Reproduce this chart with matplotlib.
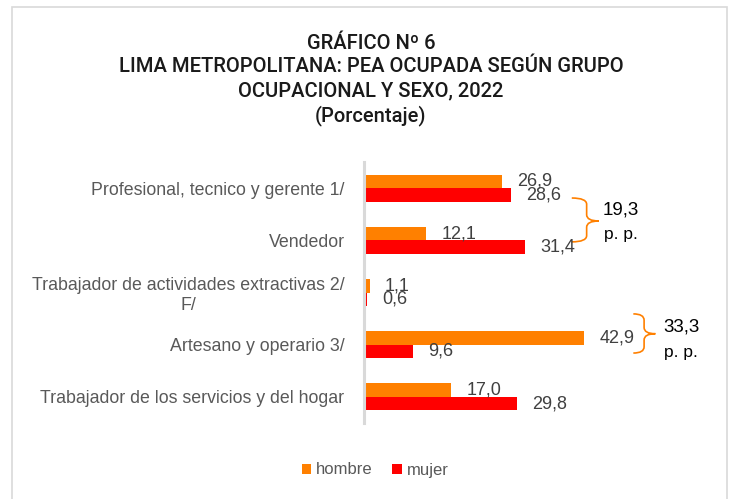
import matplotlib
matplotlib.use("Agg")
import matplotlib.pyplot as plt
from matplotlib.path import Path
from matplotlib.patches import PathPatch, Rectangle
import numpy as np

plt.rcParams['font.family'] = ['Liberation Sans', 'DejaVu Sans']

categories = [
    "Profesional, tecnico y gerente 1/",
    "Vendedor",
    "Trabajador de actividades extractivas 2/\nF/",
    "Artesano y operario 3/",
    "Trabajador de los servicios y del hogar",
]
hombre = [26.9, 12.1, 1.1, 42.9, 17.0]
mujer = [28.6, 31.4, 0.6, 9.6, 29.8]
series_names = ["hombre", "mujer"]
colors = ["#FF8000", "#FF0000"]

# brackets: (first row, last row) compared inside each gap
brace_rows = [(0, 1), (3, 3)]

title = ("GRÁFICO Nº 6\nLIMA METROPOLITANA: PEA OCUPADA SEGÚN GRUPO\n"
         "OCUPACIONAL Y SEXO, 2022\n(Porcentaje)")


def fmt(v):
    return f"{v:.1f}".replace(".", ",")


def draw_brace(ax, y0, y1, yt, xl, xm, xt, r=0.12):
    verts = [(xl, y0), (xm, y0), (xm, y0 + r),
             (xm, yt - r), (xm, yt), (xt, yt),
             (xm, yt), (xm, yt + r),
             (xm, y1 - r), (xm, y1), (xl, y1)]
    codes = [Path.MOVETO, Path.CURVE3, Path.CURVE3,
             Path.LINETO, Path.CURVE3, Path.CURVE3,
             Path.CURVE3, Path.CURVE3,
             Path.LINETO, Path.CURVE3, Path.CURVE3]
    ax.add_patch(PathPatch(Path(verts, codes), fill=False, ec="#FF8000",
                           lw=1.2, clip_on=False))


fig = plt.figure(figsize=(7.3, 4.99), dpi=100)
fig.patches.append(Rectangle((12 / 730, -0.1), 715 / 730, 1.1 - 7 / 499,
                             transform=fig.transFigure, fill=False,
                             ec="#D9D9D9", lw=1.2))

ax = fig.add_axes([364 / 730, 1 - 423 / 499, 256.5 / 730, 261 / 499])
y = np.arange(len(categories))
h = 0.26
b1 = ax.barh(y - h / 2, hombre, height=h, color=colors[0], label=series_names[0])
b2 = ax.barh(y + h / 2, mujer, height=h, color=colors[1], label=series_names[1])

for bars, vals in [(b1, hombre), (b2, mujer)]:
    for rect, v in zip(bars, vals):
        ax.annotate(fmt(v), (v, rect.get_y() + rect.get_height() / 2),
                    xytext=(11, 0), textcoords="offset points",
                    ha="left", va="center", fontsize=13, color="#404040",
                    annotation_clip=False)

ax.set_xlim(0, 50)
ax.set_ylim(len(categories) - 0.5, -0.5)
ax.set_yticks(y)
ax.set_yticklabels(categories, fontsize=12.8, color="#595959",
                   multialignment="center")
ax.tick_params(axis="y", length=0, pad=14)
ax.set_xticks([])
for s in ["top", "right", "bottom"]:
    ax.spines[s].set_visible(False)
ax.spines["left"].set_color("#D9D9D9")
ax.spines["left"].set_linewidth(2.2)

# bracket annotations
brace_geom = [
    dict(y0=0.19, y1=1.03, yt=0.63, xl=40.5, xm=43.4, xt=45.8, tx=50.1, ty=(0.42, 0.88)),
    dict(y0=2.41, y1=3.16, yt=2.79, xl=52.5, xm=54.6, xt=56.8, tx=61.8, ty=(2.66, 3.14)),
]
for (r0, r1), g in zip(brace_rows, brace_geom):
    rows = range(r0, r1 + 1)
    diff = max(max(hombre[i], mujer[i]) for i in rows) - min(min(hombre[i], mujer[i]) for i in rows)
    draw_brace(ax, g["y0"], g["y1"], g["yt"], g["xl"], g["xm"], g["xt"])
    ax.text(g["tx"], g["ty"][0], fmt(diff), ha="center", va="center",
            fontsize=13.5, color="#000000", clip_on=False)
    ax.text(g["tx"], g["ty"][1], "p. p.", ha="center", va="center",
            fontsize=12.5, color="#000000", clip_on=False)

fig.text(371 / 730, 1 - 80 / 499, title, ha="center", va="center",
         fontsize=14.5, fontfamily="Roboto", fontweight="medium",
         color="#1a1a1a", linespacing=1.32)

fig.legend(handles=[b1, b2], labels=series_names, loc="center",
           bbox_to_anchor=(375 / 730, 1 - 470 / 499), ncol=2, frameon=False,
           fontsize=12, labelcolor="#595959", handlelength=0.55,
           handleheight=0.55, handletextpad=0.3, columnspacing=1.2)

fig.savefig("out.png", dpi=100)
